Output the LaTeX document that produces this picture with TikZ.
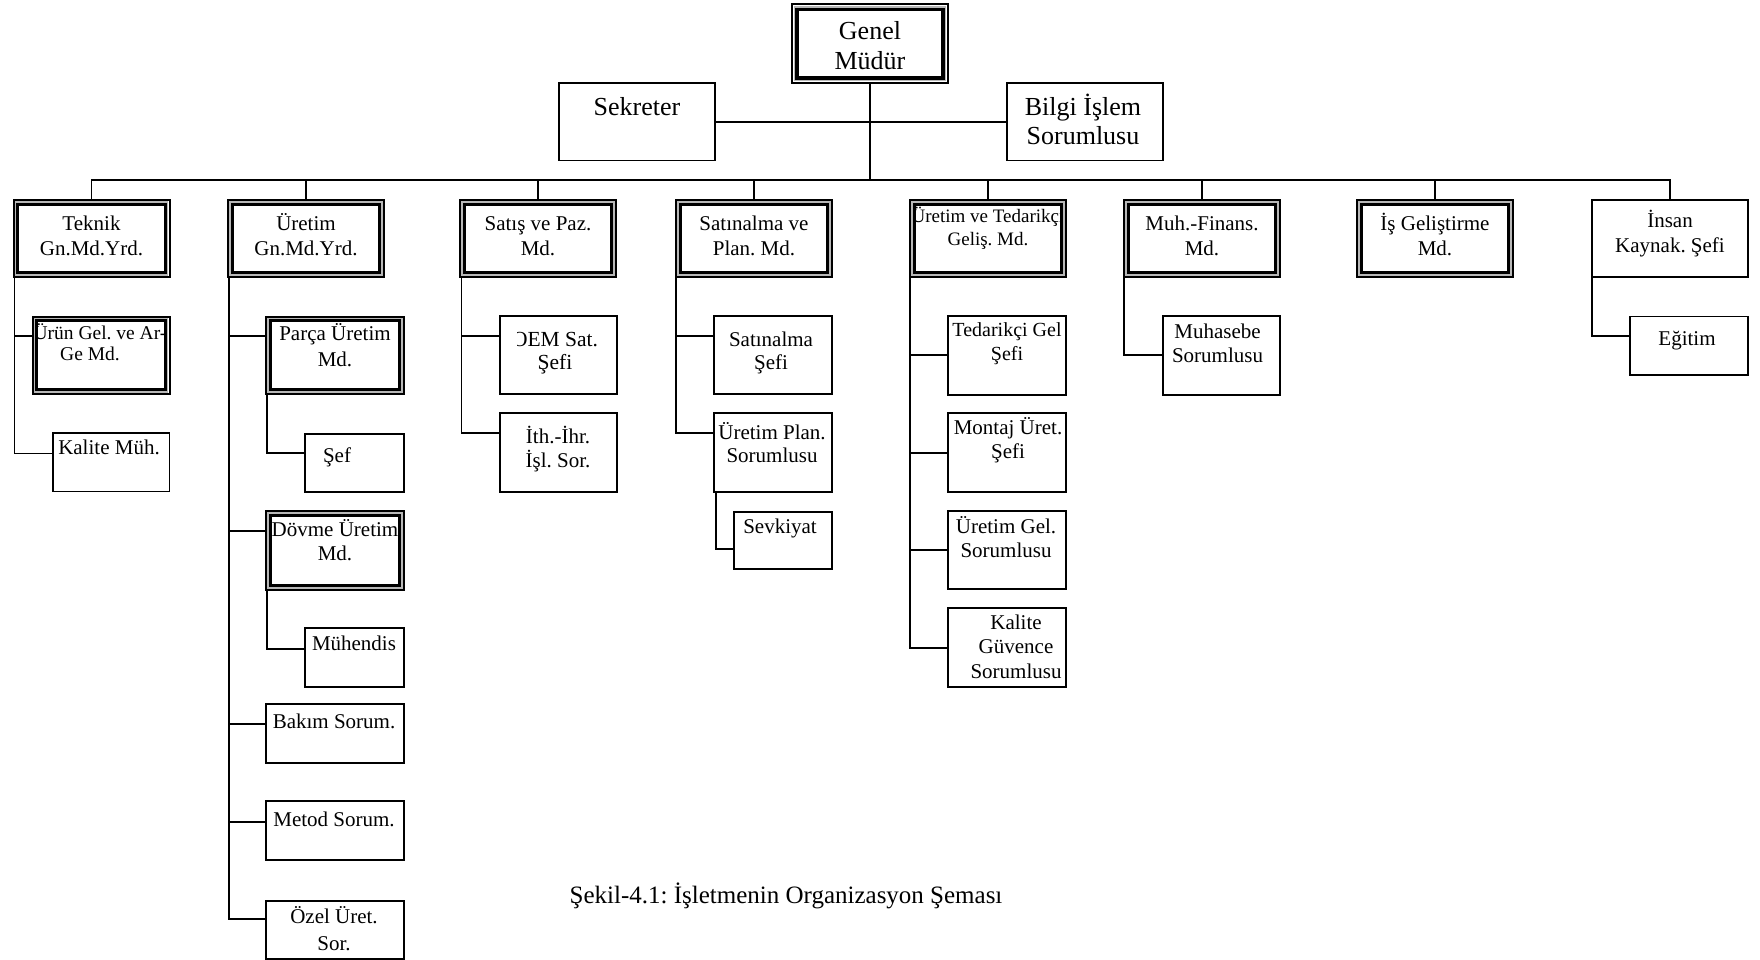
\documentclass[tikz,border=0pt]{standalone}
\usepackage{fontspec}
\setmainfont{Liberation Serif}
\frenchspacing
% box from corner coordinates: name, style, x1, y1, x2, y2
\newcommand\obox[6]{\node[#2, minimum width={(#5-#3)*1pt}, minimum height={(#6-#4)*1pt}] (#1) at ({(#3+#5)/2},{(#4+#6)/2}) {};}
% inner rules of a double-framed box: name, inset, style
\newcommand\orim[3]{%
  \draw[gaprule] ([xshift=#2pt/2,yshift=-#2pt/2]#1.north west) rectangle ([xshift=-#2pt/2,yshift=#2pt/2]#1.south east);
  \draw[#3] ([xshift=#2pt,yshift=-#2pt]#1.north west) rectangle ([xshift=-#2pt,yshift=#2pt]#1.south east);}
% text block: name, centre x, first line centre y, font size, line spacing, text
\newcommand\otext[6]{\node[txt, font=\fontsize{#4}{#5}\selectfont, anchor=north] (#1) at (#2,{#3-0.65*#4}) {\rule{0pt}{0.95em}#6};}
\begin{document}
\begin{tikzpicture}[x=1pt,y=-1pt,
  every node/.style={inner sep=0pt, outer sep=0pt},
  unitbox/.style={draw, rectangle, line width=1.5pt},
  mgrbox/.style={draw, rectangle, line width=2pt},
  txt/.style={align=center},
  link/.style={line width=1.6pt},
  gaprule/.style={draw=black!28, line width=1.6pt},
  rim/.style={line width=2.7pt},
  bigrim/.style={line width=3.2pt}]
\useasboundingbox (0,0) rectangle (1760,960);

% ---- top management ----
\obox{gm}{mgrbox}{792}{4.5}{948}{83}
\obox{sek}{unitbox}{559}{83}{715}{160.5}
\obox{bil}{unitbox}{1007}{83}{1163}{160.5}
\otext{gm-t}{870}{31.5}{26}{30.5}{Genel\\Müdür}
\otext{sek-t}{637}{107.7}{26}{29}{Sekreter}
\otext{bil-t}{1083}{107.7}{26}{29}{Bilgi İşlem\\Sorumlusu}
\orim{gm}{5}{bigrim}

% ---- second level ----
\obox{tek}{mgrbox}{13.5}{200}{169.5}{277}
\obox{ure}{mgrbox}{228}{200}{384}{277}
\obox{sat}{mgrbox}{460}{200}{616}{277}
\obox{sna}{mgrbox}{676}{200}{832}{277}
\obox{utg}{mgrbox}{910}{200}{1066}{277}
\obox{muh}{mgrbox}{1124}{200}{1280}{277}
\obox{isg}{mgrbox}{1357}{200}{1513}{277}
\obox{ins}{unitbox}{1592}{200}{1748}{277}
\otext{tek-t}{91.5}{224.5}{21}{25}{Teknik\\Gn.Md.Yrd.}
\otext{ure-t}{306}{224.5}{21}{25}{Üretim\\Gn.Md.Yrd.}
\otext{sat-t}{538}{224.5}{21}{25}{Satış ve Paz.\\Md.}
\otext{sna-t}{754}{224.5}{21}{25}{Satınalma ve\\Plan. Md.}
\begin{scope}
  \clip (914.3,200) rectangle (1061.7,277);
  \otext{utg-t}{988}{216.7}{19}{22.6}{Üretim ve Tedarikçi\\Geliş. Md.}
\end{scope}
\otext{muh-t}{1202}{224.5}{21}{25}{Muh.-Finans.\\Md.}
\otext{isg-t}{1435}{224.5}{21}{25}{İş Geliştirme\\Md.}
\otext{ins-t}{1670}{221}{21}{25}{İnsan\\Kaynak. Şefi}
\foreach \b in {tek,ure,sat,sna,utg,muh,isg}{\orim{\b}{4.3}{rim}}

% ---- Teknik branch ----
\obox{urn}{mgrbox}{32.5}{316.5}{169.5}{394}
\obox{kal}{unitbox}{53}{433}{169.5}{491.5}
\begin{scope}
  \clip (36.8,316.5) rectangle (165.2,394);
  \otext{urn-t}{100}{333.3}{19.5}{21}{Ürün Gel. ve Ar-\\Ge Md.\hspace*{20pt}}
\end{scope}
\otext{kal-t}{109}{448.3}{21}{25}{Kalite Müh.}
\orim{urn}{4.3}{rim}

% ---- Üretim branch ----
\obox{par}{mgrbox}{266}{316.5}{404}{394}
\obox{sef}{unitbox}{305}{434}{404}{492}
\obox{dov}{mgrbox}{266}{511}{404}{590}
\obox{mhd}{unitbox}{305}{628}{404}{687}
\obox{bak}{unitbox}{266}{704}{404}{763}
\obox{met}{unitbox}{266}{801}{404}{860}
\obox{ozl}{unitbox}{266}{901}{404}{959}
\otext{par-t}{335}{334}{21}{26}{Parça Üretim\\Md.}
\otext{sef-t}{337}{456}{21}{25}{Şef}
\otext{dov-t}{335}{530.4}{21}{23.5}{Dövme Üretim\\Md.}
\otext{mhd-t}{354}{644.4}{21}{25}{Mühendis}
\otext{bak-t}{334}{722.4}{21}{25}{Bakım Sorum.}
\otext{met-t}{334}{820.4}{21}{25}{Metod Sorum.}
\otext{ozl-t}{334}{917.3}{21}{27}{Özel Üret.\\Sor.}
\orim{par}{4.3}{rim}
\orim{dov}{4.3}{rim}

% ---- Satış branch ----
\obox{oem}{unitbox}{500}{316}{617}{394}
\obox{ith}{unitbox}{500}{413}{617}{492}
\begin{scope}
  \clip (517,316) rectangle (617,394);
  \otext{oem-t}{555}{340}{21.5}{23}{OEM Sat.\\Şefi}
\end{scope}
\otext{ith-t}{558}{436.7}{21}{24.3}{İth.-İhr.\\İşl. Sor.}

% ---- Satınalma branch ----
\obox{ssf}{unitbox}{714}{316}{832}{394}
\obox{upl}{unitbox}{714}{413}{832}{492}
\obox{sev}{unitbox}{734}{512}{832}{569}
\otext{ssf-t}{771}{340}{21}{23.5}{Satınalma\\Şefi}
\otext{upl-t}{772}{433.3}{21}{22.5}{Üretim Plan.\\Sorumlusu}
\otext{sev-t}{780}{526.7}{21}{25}{Sevkiyat}

% ---- Üretim ve Tedarikçi branch ----
\obox{ted}{unitbox}{948}{316}{1066}{395}
\obox{mon}{unitbox}{948}{413}{1066}{492}
\obox{ugl}{unitbox}{948}{511}{1066}{589}
\obox{kgv}{unitbox}{948}{608}{1066}{687}
\otext{ted-t}{1007}{330}{20}{24}{Tedarikçi Gel\\Şefi}
\otext{mon-t}{1008}{428.3}{21}{24.3}{Montaj Üret.\\Şefi}
\otext{ugl-t}{1006}{526.7}{21}{24}{Üretim Gel.\\Sorumlusu}
\otext{kgv-t}{1016}{623.3}{21}{24.2}{Kalite\\Güvence\\Sorumlusu}

% ---- Muhasebe branch ----
\obox{mhs}{unitbox}{1163}{316}{1280}{395}
\otext{mhs-t}{1217.5}{331.7}{21}{24.3}{Muhasebe\\Sorumlusu}

% ---- İnsan Kaynakları branch ----
\obox{egt}{unitbox}{1630}{316.5}{1748}{375}
\otext{egt-t}{1687}{339}{21}{25}{Eğitim}

% ---- connectors ----
\coordinate (hub) at (870,180);
\draw[link] (gm.south) -- (hub);
\draw[link] (sek.east) -- (bil.west);
\draw[link] (tek.north) -- (tek.north |- hub) -- (ins.north |- hub) -- (ins.north);
\foreach \b in {ure,sat,sna,utg,muh,isg}{\draw[link] (\b.north) -- (\b.north |- hub);}

\draw[link] ([xshift=1pt]tek.south west) |- ([yshift=-19.5pt]urn.north west);
\draw[link] ([xshift=1pt]tek.south west) |- ([yshift=-20.5pt]kal.north west);

\draw[link] ([xshift=1pt]ure.south west) |- ([yshift=-19.5pt]par.north west);
\draw[link] ([xshift=1pt]ure.south west) |- ([yshift=-20pt]dov.north west);
\draw[link] ([xshift=1pt]ure.south west) |- ([yshift=-20pt]bak.north west);
\draw[link] ([xshift=1pt]ure.south west) |- ([yshift=-21pt]met.north west);
\draw[link] ([xshift=1pt]ure.south west) |- ([yshift=-18pt]ozl.north west);
\draw[link] ([xshift=1pt]par.south west) |- ([yshift=-19pt]sef.north west);
\draw[link] ([xshift=1pt]dov.south west) |- ([yshift=-21pt]mhd.north west);

\draw[link] ([xshift=1.5pt]sat.south west) |- ([yshift=-20pt]oem.north west);
\draw[link] ([xshift=1.5pt]sat.south west) |- ([yshift=-20pt]ith.north west);

\draw[link] (sna.south west) |- ([yshift=-20pt]ssf.north west);
\draw[link] (sna.south west) |- ([yshift=-20pt]upl.north west);
\draw[link] ([xshift=2pt]upl.south west) |- ([yshift=-37pt]sev.north west);

\draw[link] (utg.south west) |- ([yshift=-39pt]ted.north west);
\draw[link] (utg.south west) |- ([yshift=-40pt]mon.north west);
\draw[link] (utg.south west) |- ([yshift=-39pt]ugl.north west);
\draw[link] (utg.south west) |- ([yshift=-40pt]kgv.north west);

\draw[link] (muh.south west) |- ([yshift=-39pt]mhs.north west);
\draw[link] (ins.south west) |- ([yshift=-19.5pt]egt.north west);

% ---- caption ----
\node[font=\fontsize{25}{30}\selectfont] (cap) at (786,896) {Şekil-4.1: İşletmenin Organizasyon Şeması};
\end{tikzpicture}
\end{document}
